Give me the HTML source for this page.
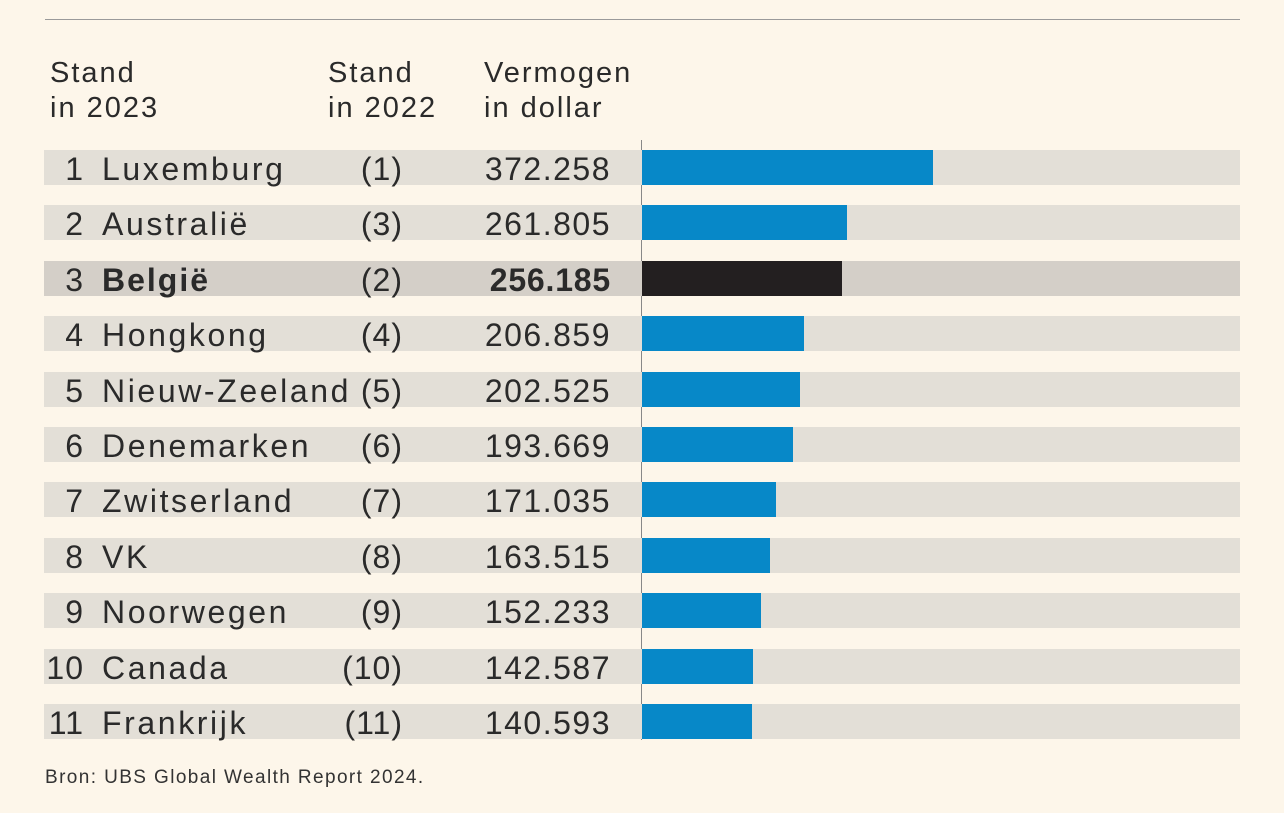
<!DOCTYPE html>
<html><head><meta charset="utf-8"><style>
body{margin:0;background:#fdf6ea;font-family:"Liberation Sans",sans-serif;color:#2a2a2a}
#c{position:relative;width:1284px;height:813px;overflow:hidden}
.t{position:absolute;white-space:nowrap;font-size:32px;letter-spacing:2.6px;line-height:1}
.h{position:absolute;font-size:29px;letter-spacing:2px;line-height:35px;white-space:nowrap}
</style></head><body>
<div id="c">
<div style="position:absolute;left:45px;top:19px;width:1195px;height:1px;background:#9a9a9a"></div>
<div class="h" style="left:50px;top:56px">Stand<br>in 2023</div>
<div class="h" style="left:328px;top:56px">Stand<br>in 2022</div>
<div class="h" style="left:484px;top:56px">Vermogen<br>in dollar</div>
<div id="rows"></div>
<div style="position:absolute;left:641px;top:140px;width:1px;height:600px;background:#888"></div>
<div style="position:absolute;left:45px;top:767px;font-size:19px;letter-spacing:1.4px;color:#333">Bron: UBS Global Wealth Report 2024.</div>
</div>
<script>
const countries=["Luxemburg","Australië","België","Hongkong","Nieuw-Zeeland","Denemarken","Zwitserland","VK","Noorwegen","Canada","Frankrijk"];
const prevRanks=[1,3,2,4,5,6,7,8,9,10,11];
const wealth=[372258,261805,256185,206859,202525,193669,171035,163515,152233,142587,140593];
const labels=["372.258","261.805","256.185","206.859","202.525","193.669","171.035","163.515","152.233","142.587","140.593"];
const highlight="België";
const x0=642,scale=291/372258,top0=150,pitch=55.4,bh=35;
const c=document.getElementById('c');
function mk(cls,style,txt){const d=document.createElement('div');if(cls)d.className=cls;d.style.cssText=style;if(txt!==undefined)d.textContent=txt;c.appendChild(d);return d;}
countries.forEach((n,i)=>{
 const y=top0+i*pitch,hl=n===highlight;
 const bg=mk('',`position:absolute;left:44px;top:${y}px;width:1196px;height:${bh}px;background:${hl?'#d4cfc8':'#e3dfd7'}`);
 
 
 const b=mk('',`position:absolute;left:${x0}px;top:${y}px;width:${wealth[i]*scale}px;height:${bh}px;background:${hl?'#231f20':'#0788c8'}`);
 
 
 const ty=y+3, fw=hl?'font-weight:bold;':'';
 const r=mk('t',`right:${1284-84}px;top:${ty}px;letter-spacing:1px`,String(i+1));
 
 
 const nm=mk('t',`left:102px;top:${ty}px;${fw}${hl?'letter-spacing:2px;':''}`,n);
 
 
 const p=mk('t',`right:${1284-403}px;top:${ty}px;letter-spacing:1px`,'('+prevRanks[i]+')');
 
 
 const v=mk('t',`right:${1284-611}px;top:${ty}px;${fw}letter-spacing:${hl?0.8:1.5}px`,labels[i]);
 
 
});
</script>
</body></html>
